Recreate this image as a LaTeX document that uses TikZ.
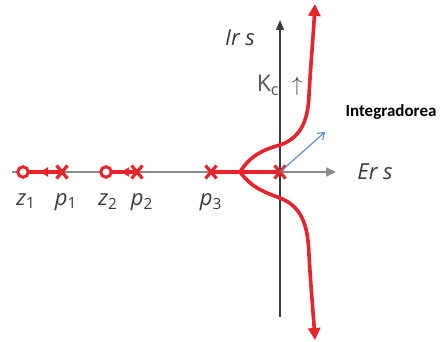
\documentclass[tikz,border=0pt]{standalone}
\usepackage{fontspec}
\setmainfont{Carlito}
\newfontfamily\lblfont{Open Sans}
\usetikzlibrary{arrows.meta,calc}
\definecolor{rlred}{HTML}{E8232B}
\definecolor{axgray}{HTML}{8C8C8C}
\definecolor{axdark}{HTML}{3A3A3A}
\definecolor{kgray}{HTML}{555555}
\definecolor{arblue}{HTML}{5B8ED0}
\begin{document}
\begin{tikzpicture}[x=1pt,y=-1pt,
  locus/.style={rlred,line width=3.6pt},
  polex/.style={rlred,line width=3.2pt},
  zerocirc/.style={rlred,line width=3pt,circle,minimum size=10.5pt,inner sep=0pt,draw},
  lbl/.style={font=\lblfont\fontsize{22}{25}\selectfont\itshape,anchor=base,text=axdark,inner sep=0pt},
  redtip/.style={-{Triangle[length=12pt,width=12pt]}}
]
\useasboundingbox (0,0) rectangle (442,342);
% axes
\coordinate (xl) at (12,172);
\coordinate (xr) at (336,172);
\coordinate (yb) at (280,317);
\coordinate (yt) at (280,20);
\draw[axgray,line width=1.8pt,-{Triangle[length=10pt,width=9pt]}] (xl) -- (xr);
\draw[axdark,line width=1.2pt,-{Triangle[length=10pt,width=8pt]}] (yb) -- (yt);
% singularities
\coordinate (z1) at (23,172);
\coordinate (p1) at (62,172);
\coordinate (z2) at (106,172);
\coordinate (p2) at (137,172);
\coordinate (p3) at (211,172);
\coordinate (p4) at (280,172);
\coordinate (br) at (240,172);
\coordinate (a1) at (40,172);
\coordinate (a2) at (121,172);
% locus segments on real axis
\draw[locus] (p1) -- (z1);
\draw[locus,-{Triangle[length=8pt,width=9pt]}] (p1) -- (a1);
\draw[locus] (p2) -- (z2);
\draw[locus,-{Triangle[length=8pt,width=9pt]}] (p2) -- (a2);
\draw[locus] (p3) -- (p4);
% branches
\coordinate (tt) at (315,4);
\coordinate (bt) at (315,340);
\draw[locus,redtip] (br) .. controls (250,156) and (262,150) .. (280,145)
  .. controls (300,138) and (308,122) .. (309,95)
  .. controls (311,60) and (313,40) .. (tt);
\draw[locus,redtip] (br) .. controls (252,188) and (264,192) .. (280,198)
  .. controls (300,206) and (308,222) .. (309,255)
  .. controls (311,290) and (313,310) .. (bt);
% markers
\foreach \p in {p1,p2,p3,p4}{
  \draw[polex] ($(\p)+(-5.5,-6.5)$) -- ($(\p)+(5.5,6.5)$);
  \draw[polex] ($(\p)+(-5.5,6.5)$) -- ($(\p)+(5.5,-6.5)$);
}
\node[zerocirc,fill=white] (cz1) at (z1) {};
\node[zerocirc,fill=white] (cz2) at (z2) {};
% blue arrow
\coordinate (bl) at (325,132);
\draw[arblue,line width=1.2pt,-{Straight Barb[length=6pt,width=9pt]}] (p4) -- (bl);
% labels
\node[lbl] (lz1) at (26,205) {z\textsubscript{\upshape 1}};
\node[lbl] (lp1) at (66,205) {p\textsubscript{\upshape 1}};
\node[lbl] (lz2) at (108,205) {z\textsubscript{\upshape 2}};
\node[lbl] (lp2) at (142,205) {p\textsubscript{\upshape 2}};
\node[lbl] (lp3) at (211,205) {p\textsubscript{\upshape 3}};
\node[lbl] (lir) at (240,46) {Ir s};
\node[lbl] (ler) at (375,180) {Er s};
\node[lbl,text=kgray,font=\lblfont\fontsize{23}{26}\selectfont] (lk) at (268,92) {K\textsubscript{c}};
\node[anchor=base,inner sep=0pt,text=axdark,font=\fontsize{20}{24}\selectfont] (lup) at (297,92) {$\uparrow$};
\node[anchor=base,inner sep=0pt,font=\fontsize{17}{20}\selectfont\bfseries] (lint) at (391,117) {Integradorea};
\end{tikzpicture}
\end{document}
